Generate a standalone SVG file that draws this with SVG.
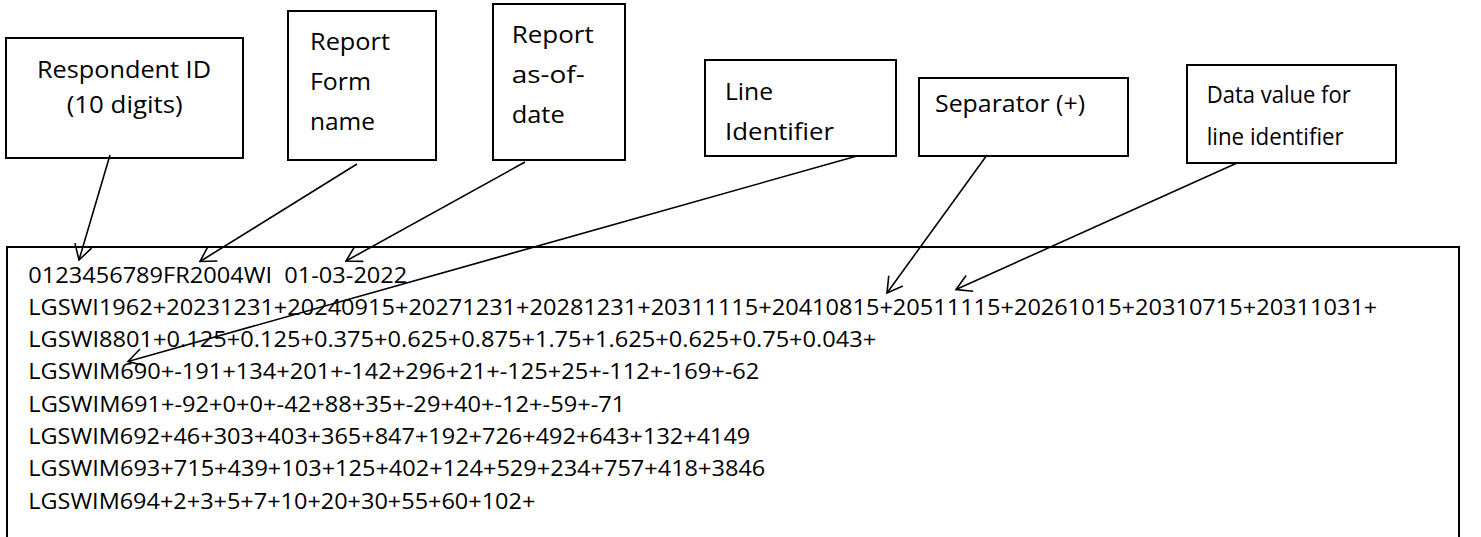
<svg xmlns="http://www.w3.org/2000/svg" width="1481" height="537" viewBox="0 0 1481 537">
<style>
.box{fill:#fff;stroke:#000;stroke-width:2}
.lbl{font-family:"Open Sans","Liberation Sans",sans-serif;font-size:24px;fill:#000;white-space:pre}
.rec{font-family:"Open Sans","Liberation Sans",sans-serif;font-size:21.5px;fill:#000;white-space:pre}
.con{fill:none;stroke:#000;stroke-width:1.6}
</style>
<defs>
<marker id="arr" markerUnits="userSpaceOnUse" markerWidth="30" markerHeight="30" refX="0" refY="0" orient="auto" overflow="visible">
<path d="M-15,-8.7 L0,0 L-15,8.7" fill="none" stroke="#000" stroke-width="1.6"/>
</marker>
</defs>
<rect width="1481" height="537" fill="#fff"/>
<g id="record">
<rect class="box" x="7" y="247" width="1452" height="310"/>
<text class="rec" x="28.3" y="282.5" textLength="379" lengthAdjust="spacingAndGlyphs">0123456789FR2004WI  01-03-2022</text>
<text class="rec" x="28.3" y="314.8" textLength="1349" lengthAdjust="spacingAndGlyphs">LGSWI1962+20231231+20240915+20271231+20281231+20311115+20410815+20511115+20261015+20310715+20311031+</text>
<text class="rec" x="28.3" y="347.1" textLength="848" lengthAdjust="spacingAndGlyphs">LGSWI8801+0.125+0.125+0.375+0.625+0.875+1.75+1.625+0.625+0.75+0.043+</text>
<text class="rec" x="28.3" y="379.4" textLength="731" lengthAdjust="spacingAndGlyphs">LGSWIM690+-191+134+201+-142+296+21+-125+25+-112+-169+-62</text>
<text class="rec" x="28.3" y="411.7" textLength="597" lengthAdjust="spacingAndGlyphs">LGSWIM691+-92+0+0+-42+88+35+-29+40+-12+-59+-71</text>
<text class="rec" x="28.3" y="444" textLength="722" lengthAdjust="spacingAndGlyphs">LGSWIM692+46+303+403+365+847+192+726+492+643+132+4149</text>
<text class="rec" x="28.3" y="476.3" textLength="737" lengthAdjust="spacingAndGlyphs">LGSWIM693+715+439+103+125+402+124+529+234+757+418+3846</text>
<text class="rec" x="28.3" y="508.6" textLength="507" lengthAdjust="spacingAndGlyphs">LGSWIM694+2+3+5+7+10+20+30+55+60+102+</text>
</g>
<g id="respondent-id">
<rect class="box" x="6" y="38" width="237" height="120"/>
<text class="lbl" x="37" y="78.3" textLength="174" lengthAdjust="spacingAndGlyphs">Respondent ID</text>
<text class="lbl" x="66.7" y="112.7" textLength="116" lengthAdjust="spacingAndGlyphs">(10 digits)</text>
</g>
<g id="report-form-name">
<rect class="box" x="288" y="11" width="148" height="149"/>
<text class="lbl" x="310" y="49.5" textLength="80" lengthAdjust="spacingAndGlyphs">Report</text>
<text class="lbl" x="310" y="90" textLength="61" lengthAdjust="spacingAndGlyphs">Form</text>
<text class="lbl" x="310" y="130" textLength="65" lengthAdjust="spacingAndGlyphs">name</text>
</g>
<g id="report-as-of-date">
<rect class="box" x="493" y="4" width="132" height="156"/>
<text class="lbl" x="511.7" y="43" textLength="82" lengthAdjust="spacingAndGlyphs">Report</text>
<text class="lbl" x="511.7" y="83" textLength="73" lengthAdjust="spacingAndGlyphs">as-of-</text>
<text class="lbl" x="511.7" y="123" textLength="53" lengthAdjust="spacingAndGlyphs">date</text>
</g>
<g id="line-identifier">
<rect class="box" x="705" y="60" width="191" height="96"/>
<text class="lbl" x="725" y="100" textLength="48" lengthAdjust="spacingAndGlyphs">Line</text>
<text class="lbl" x="725" y="140" textLength="109" lengthAdjust="spacingAndGlyphs">Identifier</text>
</g>
<g id="separator">
<rect class="box" x="919" y="78" width="209" height="78"/>
<text class="lbl" x="935" y="111.7" textLength="150" lengthAdjust="spacingAndGlyphs">Separator (+)</text>
</g>
<g id="data-value">
<rect class="box" x="1187" y="65" width="209" height="98"/>
<text class="lbl" x="1206.7" y="103.3" textLength="144" lengthAdjust="spacingAndGlyphs">Data value for</text>
<text class="lbl" x="1206.7" y="145" textLength="137" lengthAdjust="spacingAndGlyphs">line identifier</text>
</g>
<g id="connectors">
<path class="con" d="M110,155 L79,260" marker-end="url(#arr)"/>
<path class="con" d="M357,164 L200,261.5" marker-end="url(#arr)"/>
<path class="con" d="M525,162 L346,261" marker-end="url(#arr)"/>
<path class="con" d="M857,156 L128,361.5" marker-end="url(#arr)"/>
<path class="con" d="M987,155 L887,293" marker-end="url(#arr)"/>
<path class="con" d="M1237,163 L956,289.5" marker-end="url(#arr)"/>
</g>
</svg>
